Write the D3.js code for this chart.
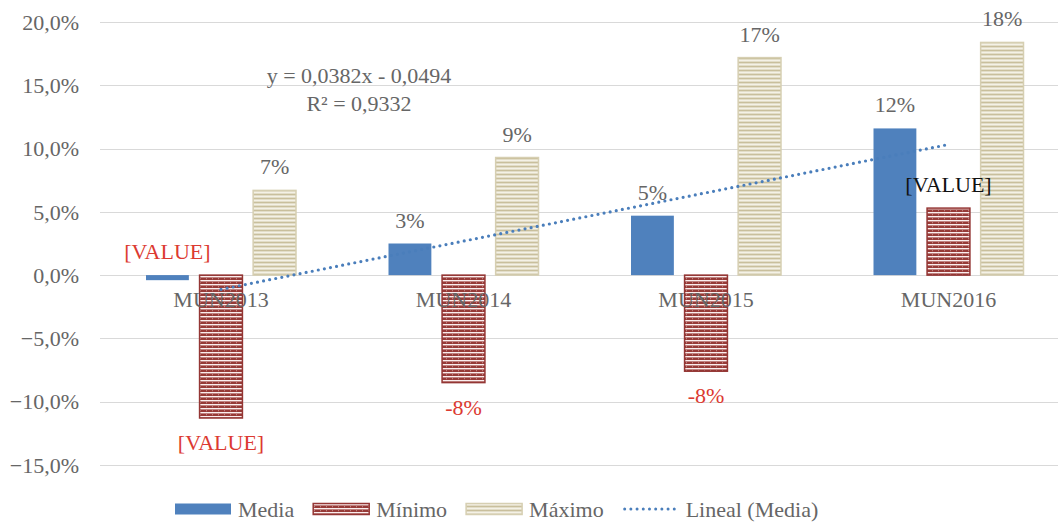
<!DOCTYPE html>
<html><head><meta charset="utf-8">
<script src="https://cdn.jsdelivr.net/npm/d3@7"></script>
<style>body{margin:0;background:#fff} svg{display:block}</style>
</head><body><svg id="c" width="1058" height="525"></svg>
<script>
// ---- data ----
const categories = ["MUN2013", "MUN2014", "MUN2015", "MUN2016"];
const seriesNames = ["Media", "Mínimo", "Máximo"];
const media  = [-0.004, 0.025, 0.047, 0.116];
const minimo = [-0.113, -0.085, -0.076, 0.053];
const maximo = [0.067, 0.093, 0.172, 0.184];
const yTicks = [-0.15, -0.10, -0.05, 0, 0.05, 0.10, 0.15, 0.20];
const mediaLabels  = ["[VALUE]", "3%", "5%", "12%"];
const minimoLabels = ["[VALUE]", "-8%", "-8%", "[VALUE]"];
const maximoLabels = ["7%", "9%", "17%", "18%"];
const trendText = ["y = 0,0382x - 0,0494", "R² = 0,9332"];
const legendNames = ["Media", "Mínimo", "Máximo", "Lineal (Media)"];

// ---- styles ----
const FONT = "'Liberation Serif', serif";
const GREY = "#666666";
const RED = "#dc3a31";
const mediaLabelColors = [RED, GREY, GREY, GREY];
const minimoLabelColors = [RED, RED, RED, "#111"];
const maximoLabelColors = [GREY, GREY, GREY, GREY];

const svg = d3.select("#c");
const defs = svg.append("defs");
const pMin = defs.append("pattern").attr("id", "pMin").attr("patternUnits", "userSpaceOnUse")
  .attr("width", 6).attr("height", 4);
pMin.append("rect").attr("width", 6).attr("height", 4).attr("fill", "#973a37");
pMin.append("rect").attr("y", 0).attr("width", 6).attr("height", 1.4).attr("fill", "#fbeeee");
pMin.append("rect").attr("x", 2).attr("y", 2.2).attr("width", 0.8).attr("height", 1).attr("fill", "#d9a8a6");
const pMax = defs.append("pattern").attr("id", "pMax").attr("patternUnits", "userSpaceOnUse")
  .attr("width", 6).attr("height", 4);
pMax.append("rect").attr("width", 6).attr("height", 4).attr("fill", "#f4f1e6");
pMax.append("rect").attr("y", 1.6).attr("width", 6).attr("height", 1.8).attr("fill", "#c9bf9c");

const y = d3.scaleLinear().domain([-0.15, 0.20]).range([464.8, 22.2]);
const x = d3.scaleBand().domain(categories).range([99.75, 1069.75]).padding(0);
const bw = x.bandwidth();
const xs = d3.scaleBand().domain(seriesNames).range([bw / 2 - 75, bw / 2 + 75]).paddingInner(0.2).paddingOuter(0);

// gridlines
svg.append("g").selectAll("line").data(yTicks).join("line")
  .attr("x1", 100).attr("x2", 1058)
  .attr("y1", d => Math.round(y(d)) + 0.5).attr("y2", d => Math.round(y(d)) + 0.5)
  .attr("stroke", "#d9d9d9").attr("stroke-width", 1);

// y labels
const fmt = d => d3.format(".1f")(d * 100).replace(".", ",") + "%";
svg.append("g").selectAll("text").data(yTicks).join("text")
  .attr("x", 79).attr("y", d => y(d)).attr("dy", "0.35em")
  .attr("text-anchor", "end").attr("font-family", FONT).attr("font-size", 22).attr("fill", GREY)
  .text(fmt);

// bars
const series = [
  {name: "Media", values: media, fill: "#4f81bd", stroke: "#4f81bd", labels: mediaLabels, colors: mediaLabelColors},
  {name: "Mínimo", values: minimo, fill: "url(#pMin)", stroke: "#943634", labels: minimoLabels, colors: minimoLabelColors},
  {name: "Máximo", values: maximo, fill: "url(#pMax)", stroke: "#d6cfb2", labels: maximoLabels, colors: maximoLabelColors}
];
series.forEach(s => {
  const g = svg.append("g");
  g.selectAll("rect").data(s.values).join("rect")
    .attr("x", (d, i) => x(categories[i]) + xs(s.name))
    .attr("width", xs.bandwidth())
    .attr("y", d => y(Math.max(0, d)))
    .attr("height", d => Math.abs(y(d) - y(0)))
    .attr("fill", s.fill).attr("stroke", s.stroke).attr("stroke-width", s.name === "Media" ? 0 : 1.5);
});

// trendline (least squares on Media)
const xi = media.map((d, i) => i + 1);
const mx = d3.mean(xi), my = d3.mean(media);
const slope = d3.sum(xi.map((v, i) => (v - mx) * (media[i] - my))) / d3.sum(xi.map(v => (v - mx) ** 2));
const icpt = my - slope * mx;
const line = d3.line().x(d => x(categories[d - 1]) + bw / 2).y(d => y(slope * d + icpt));
svg.append("path").datum([1, 4]).attr("d", line)
  .attr("fill", "none").attr("stroke", "#4a7ebb").attr("stroke-width", 3.2)
  .attr("stroke-linecap", "round").attr("stroke-dasharray", "0,6.2");

// category labels
svg.append("g").selectAll("text").data(categories).join("text")
  .attr("x", d => x(d) + bw / 2).attr("y", y(0) + 32)
  .attr("text-anchor", "middle").attr("font-family", FONT).attr("font-size", 22).attr("fill", GREY)
  .text(d => d);

// data labels
series.forEach(s => {
  svg.append("g").selectAll("text").data(s.values).join("text")
    .attr("x", (d, i) => x(categories[i]) + xs(s.name) + xs.bandwidth() / 2)
    .attr("y", (d, i) => (s.name === "Mínimo" && d < 0) ? y(d) + 32 : y(Math.max(0, d)) - 16)
    .attr("text-anchor", "middle").attr("font-family", FONT).attr("font-size", 22)
    .attr("fill", (d, i) => s.colors[i])
    .text((d, i) => s.labels[i]);
});

// trend equation
svg.append("g").selectAll("text").data(trendText).join("text")
  .attr("x", 359).attr("y", (d, i) => 83 + i * 28)
  .attr("text-anchor", "middle").attr("font-family", FONT).attr("font-size", 22).attr("fill", GREY)
  .text(d => d);

// legend
const lg = svg.append("g").attr("font-family", FONT).attr("font-size", 22);
let lx = 175;
const ly = 509;
legendNames.forEach((n, i) => {
  if (i < 3) {
    lg.append("rect").attr("x", lx).attr("y", ly - 5.5).attr("width", 56).attr("height", 11)
      .attr("fill", series[i].fill).attr("stroke", series[i].stroke).attr("stroke-width", i === 0 ? 0 : 1.5);
  } else {
    lg.append("line").attr("x1", lx + 2).attr("x2", lx + 54).attr("y1", ly).attr("y2", ly)
      .attr("stroke", "#4a7ebb").attr("stroke-width", 3).attr("stroke-linecap", "round").attr("stroke-dasharray", "0,6.2");
  }
  const t = lg.append("text").attr("x", lx + 63).attr("y", ly).attr("dy", "0.35em").attr("fill", GREY).text(n);
  lx += 63 + t.node().getComputedTextLength() + 19;
});
</script></body></html>
